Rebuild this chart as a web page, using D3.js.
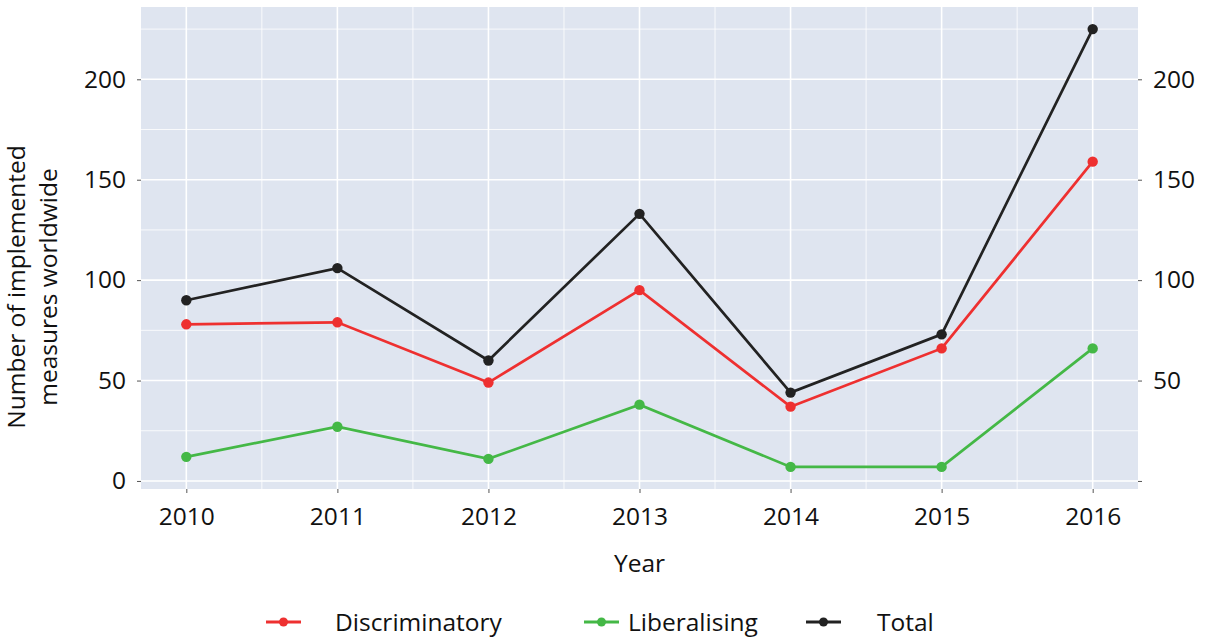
<!DOCTYPE html>
<html>
<head>
<meta charset="utf-8">
<script src="https://cdn.jsdelivr.net/npm/d3@7"></script>
<style>
  body { margin: 0; background: #fff; }
  text { font-family: "Open Sans", "Noto Sans", sans-serif; fill: #111; }
</style>
</head>
<body>
<svg id="chart"></svg>
<script>
const years = [2010, 2011, 2012, 2013, 2014, 2015, 2016];
const discriminatory = [78, 79, 49, 95, 37, 66, 159];
const liberalising = [12, 27, 11, 38, 7, 7, 66];
const total = [90, 106, 60, 133, 44, 73, 225];
const seriesNames = ["Discriminatory", "Liberalising", "Total"];
const seriesColors = ["#ee3030", "#44b846", "#222222"];
const yTicks = [0, 50, 100, 150, 200];

const w = 1205, h = 637;
const mLeft = 141, mRight = 1138, mTop = 7, mBottom = 489;
const fs = 24.5;

var svg = d3.select("#chart").attr("width", w).attr("height", h);

var x = d3.scaleLinear().domain([2009.7, 2016.3]).range([mLeft, mRight]);
var y = d3.scaleLinear().domain([-4, 236]).range([mBottom, mTop]);

// background
svg.append("rect")
    .attr("x", mLeft).attr("y", mTop)
    .attr("width", mRight - mLeft).attr("height", mBottom - mTop)
    .attr("fill", "#dfe5f0");

// minor grid
var minorX = d3.range(2009.5, 2016.6, 1).filter(v => v > 2009.7 && v < 2016.3);
var minorY = d3.range(25, 236, 50);
svg.append("g").selectAll("line").data(minorX).enter().append("line")
    .attr("x1", d => x(d)).attr("x2", d => x(d))
    .attr("y1", mTop).attr("y2", mBottom)
    .attr("stroke", "#fff").attr("stroke-width", 0.8);
svg.append("g").selectAll("line").data(minorY).enter().append("line")
    .attr("x1", mLeft).attr("x2", mRight)
    .attr("y1", d => y(d)).attr("y2", d => y(d))
    .attr("stroke", "#fff").attr("stroke-width", 0.8);

// major grid
svg.append("g").selectAll("line").data(years).enter().append("line")
    .attr("x1", d => x(d)).attr("x2", d => x(d))
    .attr("y1", mTop).attr("y2", mBottom)
    .attr("stroke", "#fff").attr("stroke-width", 1.6);
svg.append("g").selectAll("line").data(yTicks).enter().append("line")
    .attr("x1", mLeft).attr("x2", mRight)
    .attr("y1", d => y(d)).attr("y2", d => y(d))
    .attr("stroke", "#fff").attr("stroke-width", 1.6);

// axes
var xAxis = d3.axisBottom(x).tickValues(years).tickFormat(d3.format("d")).tickSize(4).tickPadding(15);
var yAxisL = d3.axisLeft(y).tickValues(yTicks).tickSize(4).tickPadding(11);
var yAxisR = d3.axisRight(y).tickValues(yTicks).tickSize(4).tickPadding(11)
    .tickFormat(d => d === 0 ? "" : d);

function styleAxis(g) {
    g.select(".domain").remove();
    g.selectAll(".tick line").attr("stroke", "#555").attr("stroke-width", 1);
    g.selectAll(".tick text").attr("font-size", fs).attr("fill", "#111")
        .style("font-family", "'Open Sans', 'Noto Sans', sans-serif");
}
svg.append("g").attr("transform", "translate(0," + mBottom + ")").call(xAxis).call(styleAxis);
svg.append("g").attr("transform", "translate(" + mLeft + ",0)").call(yAxisL).call(styleAxis);
svg.append("g").attr("transform", "translate(" + mRight + ",0)").call(yAxisR).call(styleAxis);

// lines
var allSeries = [discriminatory, liberalising, total];
var line = d3.line().x((d, i) => x(years[i])).y(d => y(d));
allSeries.forEach((s, k) => {
    svg.append("path").datum(s)
        .attr("d", line)
        .attr("fill", "none")
        .attr("stroke", seriesColors[k])
        .attr("stroke-width", 2.7);
    svg.append("g").selectAll("circle").data(s).enter().append("circle")
        .attr("cx", (d, i) => x(years[i]))
        .attr("cy", d => y(d))
        .attr("r", 5.2)
        .attr("fill", seriesColors[k]);
});

// axis labels
svg.append("text")
    .attr("x", (mLeft + mRight) / 2).attr("y", 572)
    .attr("text-anchor", "middle").attr("font-size", fs)
    .text("Year");
var yl = svg.append("text")
    .attr("transform", "translate(29,287) rotate(-90)")
    .attr("text-anchor", "middle").attr("font-size", fs);
yl.append("tspan").attr("x", 0).attr("dy", "-0.15em").text("Number of implemented");
yl.append("tspan").attr("x", 0).attr("dy", "1.3em").text("measures worldwide");

// legend
var legendX = [266, 584, 806];
var legend = svg.append("g").selectAll("g").data(seriesNames).enter().append("g")
    .attr("transform", (d, i) => "translate(" + legendX[i] + ",622)");
legend.append("line")
    .attr("x1", 0).attr("x2", 35).attr("y1", 0).attr("y2", 0)
    .attr("stroke", (d, i) => seriesColors[i]).attr("stroke-width", 3);
legend.append("circle")
    .attr("cx", 17.5).attr("cy", 0).attr("r", 4.5)
    .attr("fill", (d, i) => seriesColors[i]);
legend.append("text")
    .attr("x", (d, i) => i === 2 ? 71 : i === 1 ? 44 : 69).attr("y", 0).attr("dy", "0.35em")
    .attr("font-size", fs)
    .text(d => d);
</script>
</body>
</html>
